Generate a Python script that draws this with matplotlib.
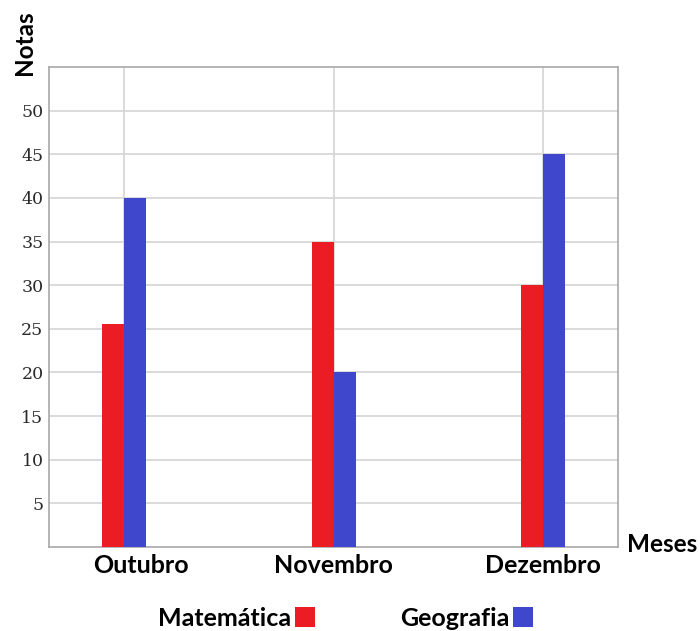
import numpy as np
import matplotlib.pyplot as plt
from matplotlib.transforms import ScaledTranslation

meses = ["Outubro", "Novembro", "Dezembro"]
matematica = [25.5, 35, 30]
geografia = [40, 20, 45]
yticks = [5, 10, 15, 20, 25, 30, 35, 40, 45, 50]

red = "#ec1c24"
blue = "#3f48cc"

fig = plt.figure(figsize=(7, 6.31), dpi=100)
ax = fig.add_axes([0.07, 0.133, 0.813, 0.761])

x = np.arange(len(meses))
w = 0.105
b1 = ax.bar(x - w / 2, matematica, width=w, color=red, zorder=3, label="Matemática")
b2 = ax.bar(x + w / 2, geografia, width=w, color=blue, zorder=3, label="Geografia")

ax.set_xlim(-0.36, 2.36)
ax.set_ylim(0, 55)
ax.set_yticks(yticks)
ax.set_yticklabels([str(v) for v in yticks], family="DejaVu Serif", fontsize=12.5, color="#2a2a2a")
ax.set_xticks(x)
ax.set_xticklabels(meses, family="Lato", fontweight="bold", fontsize=18)
ax.tick_params(length=0, pad=5)
ax.tick_params(axis="y", pad=4)

# first month label sits a little to the right of its bars
lbl = ax.get_xticklabels()[0]
lbl.set_transform(lbl.get_transform() + ScaledTranslation(0.17, 0, fig.dpi_scale_trans))

ax.grid(True, color="#d4d4d4", linewidth=1.2, zorder=0)
for s in ax.spines.values():
    s.set_color("#a8a8a8")
    s.set_linewidth(1.2)

fig.text(0.035, 0.932, "Notas", rotation=90, ha="center", va="center",
         family="Lato", fontweight="bold", fontsize=17.5)
fig.text(0.896, 0.137, "Meses", ha="left", va="center",
         family="Lato", fontweight="bold", fontsize=17.5)

fig.legend(handles=[b1, b2], loc="center", bbox_to_anchor=(0.494, 0.02),
           ncol=2, frameon=False, markerfirst=False,
           prop={"family": "Lato", "weight": "bold", "size": 18},
           handlelength=0.8, handleheight=0.85, handletextpad=0.15,
           columnspacing=3.4)

fig.savefig("out.png", dpi=100)
